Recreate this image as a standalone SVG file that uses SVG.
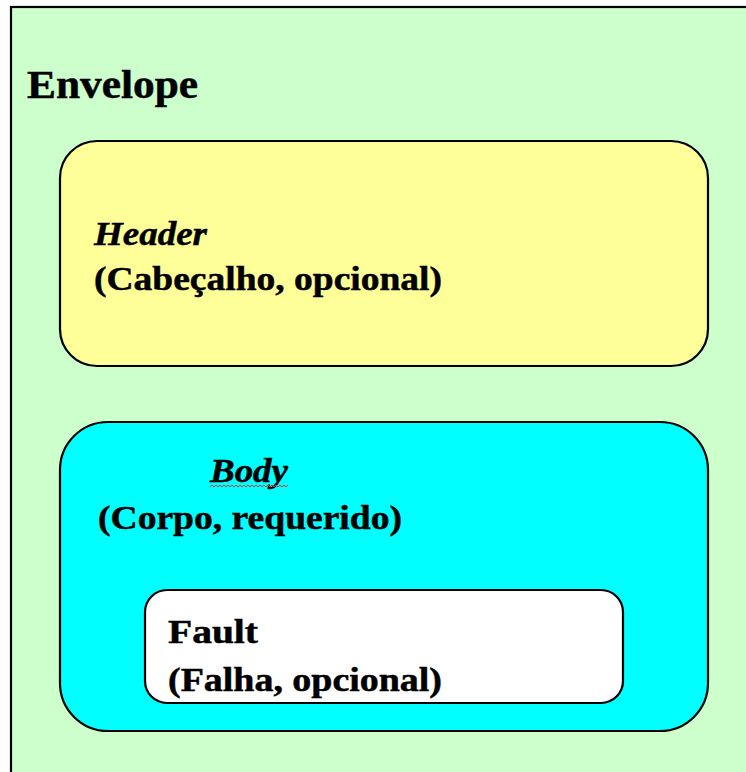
<svg xmlns="http://www.w3.org/2000/svg" width="746" height="772" viewBox="0 0 746 772">
<style>
.box{stroke:#000;stroke-width:2.2}
.t{font-family:"Liberation Serif","Times New Roman",serif;font-weight:bold;fill:#000;stroke:#000;stroke-width:0.5}
.i{font-style:italic}
</style>
<rect x="0" y="0" width="746" height="772" fill="#fff"/>
<g id="envelope">
<rect class="box" x="11" y="7" width="760" height="800" fill="#CCFFCC" stroke-width="2.6"/>
<text class="t" x="27" y="98" font-size="40" textLength="171" lengthAdjust="spacingAndGlyphs">Envelope</text>
</g>
<g id="header">
<rect class="box" x="60" y="141" width="648" height="225" rx="37" fill="#FFFF99"/>
<text class="t i" x="94" y="245" font-size="34.5" textLength="113" lengthAdjust="spacingAndGlyphs">Header</text>
<text class="t" x="94" y="290" font-size="34.5" textLength="348" lengthAdjust="spacingAndGlyphs">(Cabeçalho, opcional)</text>
</g>
<g id="body">
<rect class="box" x="60" y="422" width="648" height="309" rx="48" fill="#00FFFF"/>
<text class="t i" x="210" y="482" font-size="34.5" textLength="78" lengthAdjust="spacingAndGlyphs">Body</text>
<path d="M210,487 l2,-2 l2,2 l2,-2 l2,2 l2,-2 l2,2 l2,-2 l2,2 l2,-2 l2,2 l2,-2 l2,2 l2,-2 l2,2 l2,-2 l2,2 l2,-2 l2,2 l2,-2 l2,2 l2,-2 l2,2 l2,-2 l2,2 l2,-2 l2,2 l2,-2 l2,2 l2,-2 l2,2 l2,-2 l2,2 l2,-2 l2,2 l2,-2 l2,2 l2,-2 l2,2 l2,-2" fill="none" stroke="#E03030" stroke-width="1"/>
<text class="t" x="98" y="529" font-size="34.5" textLength="304" lengthAdjust="spacingAndGlyphs">(Corpo, requerido)</text>
</g>
<g id="fault">
<rect class="box" x="145" y="590" width="478" height="113" rx="22" fill="#FFFFFF"/>
<text class="t" x="168" y="643" font-size="33.5" textLength="90" lengthAdjust="spacingAndGlyphs">Fault</text>
<text class="t" x="168" y="691" font-size="33.5" textLength="274" lengthAdjust="spacingAndGlyphs">(Falha, opcional)</text>
</g>
<g id="connectors"></g>
</svg>
